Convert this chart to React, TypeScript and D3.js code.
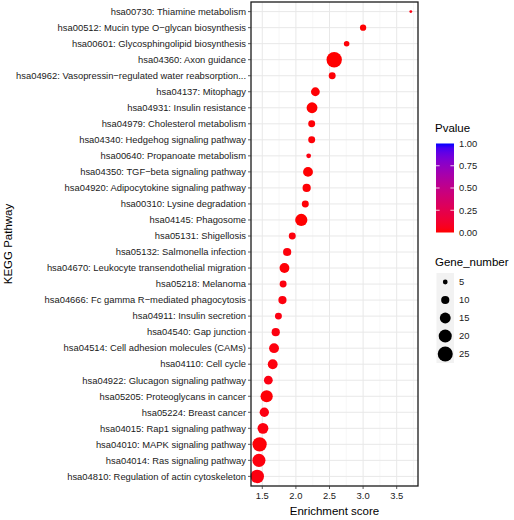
import React from "react";
import * as d3 from "d3";

const pathways = [
  "hsa00730: Thiamine metabolism",
  "hsa00512: Mucin type O−glycan biosynthesis",
  "hsa00601: Glycosphingolipid biosynthesis",
  "hsa04360: Axon guidance",
  "hsa04962: Vasopressin−regulated water reabsorption...",
  "hsa04137: Mitophagy",
  "hsa04931: Insulin resistance",
  "hsa04979: Cholesterol metabolism",
  "hsa04340: Hedgehog signaling pathway",
  "hsa00640: Propanoate metabolism",
  "hsa04350: TGF−beta signaling pathway",
  "hsa04920: Adipocytokine signaling pathway",
  "hsa00310: Lysine degradation",
  "hsa04145: Phagosome",
  "hsa05131: Shigellosis",
  "hsa05132: Salmonella infection",
  "hsa04670: Leukocyte transendothelial migration",
  "hsa05218: Melanoma",
  "hsa04666: Fc gamma R−mediated phagocytosis",
  "hsa04911: Insulin secretion",
  "hsa04540: Gap junction",
  "hsa04514: Cell adhesion molecules (CAMs)",
  "hsa04110: Cell cycle",
  "hsa04922: Glucagon signaling pathway",
  "hsa05205: Proteoglycans in cancer",
  "hsa05224: Breast cancer",
  "hsa04015: Rap1 signaling pathway",
  "hsa04010: MAPK signaling pathway",
  "hsa04014: Ras signaling pathway",
  "hsa04810: Regulation of actin cytoskeleton",
];

const enrichment = [
  3.71, 3.0, 2.755, 2.57, 2.54, 2.29, 2.24, 2.235, 2.235, 2.19,
  2.18, 2.16, 2.14, 2.08, 1.946, 1.87, 1.83, 1.81, 1.8, 1.74,
  1.7, 1.675, 1.655, 1.59, 1.565, 1.53, 1.51, 1.46, 1.45, 1.425,
];

const geneNumber = [
  3, 7, 6, 26, 8, 11, 15, 8, 8, 5,
  13, 10, 8, 18, 8, 10, 13, 8, 10, 8,
  10, 13, 13, 11, 18, 12, 15, 23, 20, 21,
];

const pvalue = [
  0.03, 0.004, 0.012, 0.0001, 0.008, 0.006, 0.002, 0.01, 0.011, 0.03,
  0.004, 0.008, 0.012, 0.001, 0.02, 0.018, 0.009, 0.025, 0.02, 0.03,
  0.025, 0.02, 0.022, 0.03, 0.01, 0.03, 0.025, 0.012, 0.02, 0.025,
];

const xTicks = [1.5, 2.0, 2.5, 3.0, 3.5];
const xMinor = [1.75, 2.25, 2.75, 3.25, 3.75];
const pTicks = [0, 0.25, 0.5, 0.75, 1.0];
const sizeBreaks = [5, 10, 15, 20, 25];

const FONT = "'Liberation Sans', Arial, Helvetica, sans-serif";

export default function App() {
  const W = 514;
  const H = 520;
  const left = 251;
  const right = 418;
  const top = 2;
  const bottom = 486;

  const x = d3.scaleLinear().domain([1.332, 3.817]).range([left, right]);
  const y = d3.scalePoint<string>().domain(pathways).range([top, bottom]).padding(0.6);
  const rScale = d3
    .scaleLinear()
    .domain([Math.sqrt(3), Math.sqrt(26)])
    .range([1.45, 7.7]);
  const r = (n: number) => rScale(Math.sqrt(n));
  const colorInterp = d3.interpolateLab("#FF0000", "#0000FF");
  const color = d3.scaleLinear().domain([0, 1]).range([0, 1]);

  // colorbar
  const cbX = 436;
  const cbW = 18;
  const cbTop = 143.5;
  const cbBottom = 232.5;
  const cbY = d3.scaleLinear().domain([0, 1]).range([cbBottom, cbTop]);
  const gradStops = d3.range(0, 1.0001, 0.05);

  const keyX = 436.5;
  const keyW = 17.5;
  const keyH = 18;
  const keyTop = 273;

  return (
    <svg
      width={W}
      height={H}
      style={{ position: "absolute", left: 0, top: 0, background: "#fff" }}
      fontFamily={FONT}
    >
      <defs>
        <linearGradient id="pgrad" x1="0" y1="1" x2="0" y2="0">
          {gradStops.map((t) => (
            <stop key={t} offset={`${t * 100}%`} stopColor={colorInterp(t)} />
          ))}
        </linearGradient>
      </defs>
      <rect x={0} y={0} width={W} height={H} fill="#fff" />
      {/* panel grid */}
      <rect x={left} y={top} width={right - left} height={bottom - top} fill="#fff" />
      {xMinor.map((v) => (
        <line key={"mn" + v} x1={x(v)} x2={x(v)} y1={top} y2={bottom} stroke="#f2f2f2" strokeWidth={0.6} />
      ))}
      {xTicks.map((v) => (
        <line key={"mj" + v} x1={x(v)} x2={x(v)} y1={top} y2={bottom} stroke="#e8e8e8" strokeWidth={1} />
      ))}
      {pathways.map((p) => (
        <line key={"h" + p} x1={left} x2={right} y1={y(p)} y2={y(p)} stroke="#e8e8e8" strokeWidth={1} />
      ))}
      {/* points */}
      {pathways.map((p, i) => (
        <circle
          key={"c" + p}
          cx={x(enrichment[i])}
          cy={y(p)}
          r={r(geneNumber[i])}
          fill={colorInterp(color(pvalue[i]))}
        />
      ))}
      <rect
        x={left}
        y={top}
        width={right - left}
        height={bottom - top}
        fill="none"
        stroke="#1a1a1a"
        strokeWidth={1.3}
      />
      {/* y axis */}
      {pathways.map((p) => (
        <g key={"yl" + p}>
          <line x1={left - 3} x2={left} y1={y(p)} y2={y(p)} stroke="#333" strokeWidth={0.8} />
          <text
            x={left - 5}
            y={y(p)}
            dy="0.35em"
            textAnchor="end"
            fontSize={9.4}
            fill="#1a1a1a"
          >
            {p}
          </text>
        </g>
      ))}
      {/* x axis */}
      {xTicks.map((v) => (
        <g key={"xt" + v}>
          <line x1={x(v)} x2={x(v)} y1={bottom} y2={bottom + 3} stroke="#333" strokeWidth={0.8} />
          <text x={x(v)} y={bottom + 12.5} textAnchor="middle" fontSize={9.4} fill="#1a1a1a">
            {d3.format(".1f")(v)}
          </text>
        </g>
      ))}
      <text x={(left + right) / 2} y={515} textAnchor="middle" fontSize={11.5} fill="#000">
        Enrichment score
      </text>
      <text
        transform={`translate(12, ${(top + bottom) / 2}) rotate(-90)`}
        textAnchor="middle"
        fontSize={11.5}
        fill="#000"
      >
        KEGG Pathway
      </text>
      {/* Pvalue legend */}
      <text x={435} y={132} fontSize={11.5} fill="#000">
        Pvalue
      </text>
      <rect x={cbX} y={cbTop} width={cbW} height={cbBottom - cbTop} fill="url(#pgrad)" />
      {pTicks.map((t) => (
        <g key={"pt" + t}>
          {t > 0 && t < 1 && (
            <>
              <line x1={cbX} x2={cbX + 3.6} y1={cbY(t)} y2={cbY(t)} stroke="#fff" strokeWidth={0.8} />
              <line x1={cbX + cbW - 3.6} x2={cbX + cbW} y1={cbY(t)} y2={cbY(t)} stroke="#fff" strokeWidth={0.8} />
            </>
          )}
          <text x={459} y={cbY(t)} dy="0.35em" fontSize={9.4} fill="#1a1a1a">
            {d3.format(".2f")(t)}
          </text>
        </g>
      ))}
      {/* Gene_number legend */}
      <text x={435} y={266} fontSize={11.5} fill="#000">
        Gene_number
      </text>
      {sizeBreaks.map((s, i) => {
        const cy = keyTop + keyH * i + keyH / 2;
        return (
          <g key={"sk" + s}>
            <rect x={keyX} y={keyTop + keyH * i} width={keyW} height={keyH} fill="#f2f2f2" />
            <circle cx={keyX + keyW / 2} cy={cy} r={r(s)} fill="#000" />
            <text x={459} y={cy} dy="0.35em" fontSize={9.4} fill="#1a1a1a">
              {s}
            </text>
          </g>
        );
      })}
    </svg>
  );
}
